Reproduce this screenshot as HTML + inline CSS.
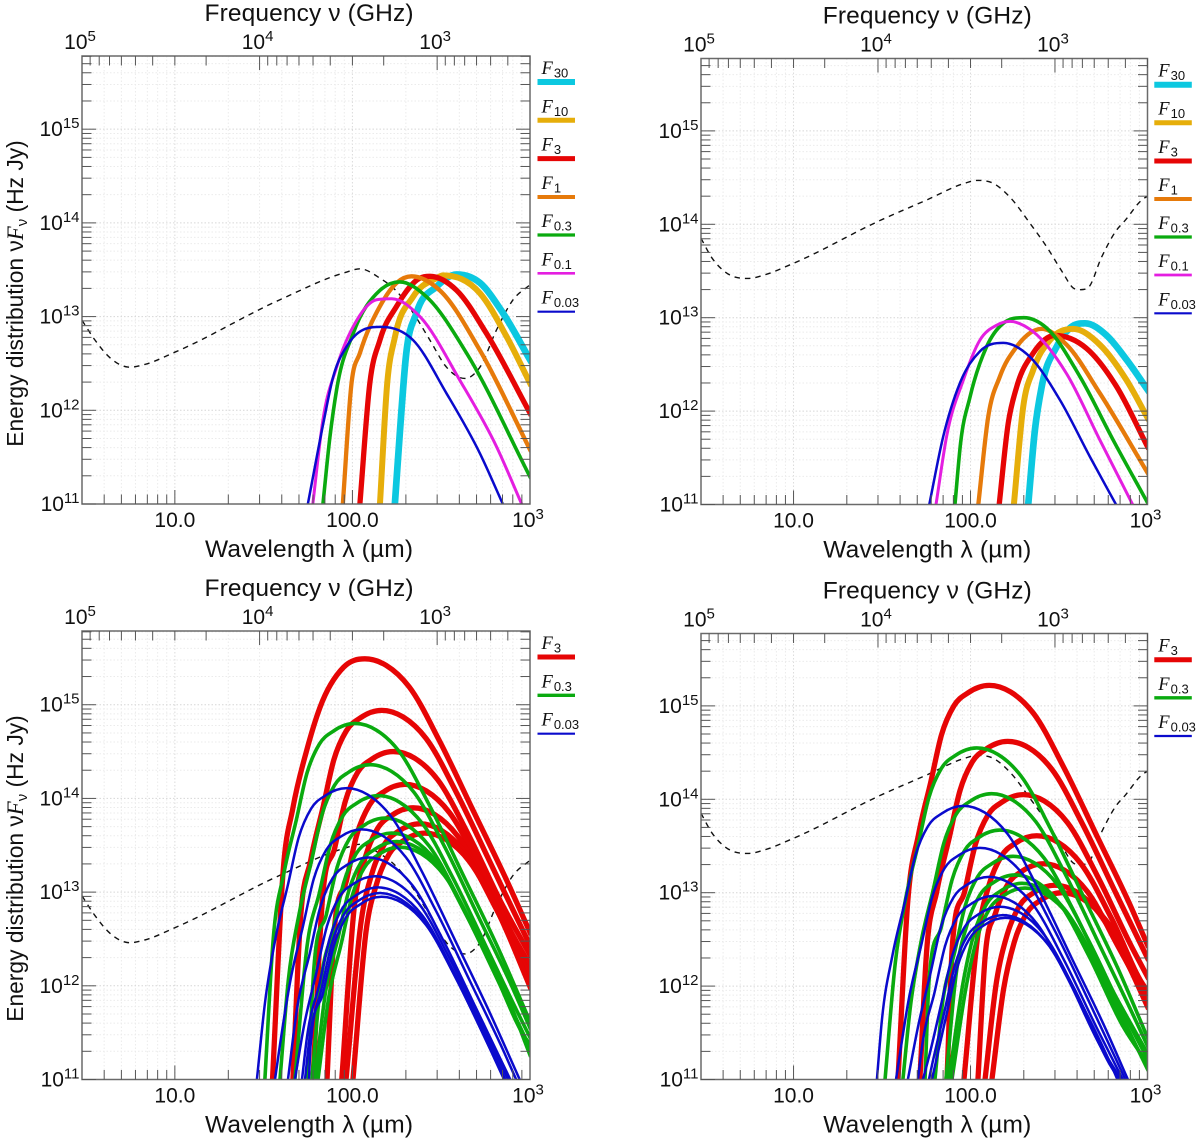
<!DOCTYPE html>
<html lang="en">
<head>
<meta charset="utf-8">
<title>Energy distribution panels</title>
<style>
html,body{margin:0;padding:0;background:#fff;}
svg{display:block;}
text{font-family:"Liberation Sans",sans-serif;fill:#111;}
</style>
</head>
<body>
<svg id="figure" xmlns="http://www.w3.org/2000/svg" width="1200" height="1140" viewBox="0 0 1200 1140"></svg>
<script>
// All values are log10(wavelength / micron) and log10(nuFnu / Hz Jy).
const dustLamLeft=[0.477,0.55,0.635,0.747,0.832,1.0,1.592,1.958,2.042,2.155,2.249,2.342,2.436,2.53,2.633,2.718,2.812,2.905,3.0];
const dustFluxLeft=[12.96,12.75,12.56,12.46,12.49,12.62,13.18,13.47,13.51,13.41,13.27,13.04,12.75,12.46,12.34,12.46,12.86,13.18,13.34];
const dustLamRight=[0.477,0.539,0.613,0.743,0.839,0.997,1.488,1.752,1.969,2.035,2.127,2.223,2.336,2.43,2.522,2.579,2.618,2.664,2.741,2.826,2.873,2.974,3.0];
const dustFluxRight=[13.85,13.64,13.49,13.42,13.46,13.58,14.04,14.26,14.44,14.47,14.44,14.29,14.01,13.76,13.48,13.32,13.30,13.32,13.65,13.94,14.04,14.27,14.30];

// Top-left panel
const tlF30Lam=[2.239,2.267,2.301,2.361,2.474,2.587,2.718,2.847,3.0];
const tlF30Flux=[11,11.76,12.57,13.04,13.32,13.45,13.36,13.04,12.54];
const tlF10Lam=[2.155,2.196,2.239,2.341,2.474,2.51,2.718,2.87,3.0];
const tlF10Flux=[11,12.29,12.78,13.21,13.41,13.44,13.25,12.78,12.29];
const tlF3Lam=[2.042,2.098,2.155,2.249,2.38,2.436,2.587,2.755,3.0];
const tlF3Flux=[11,12.29,12.75,13.11,13.41,13.43,13.28,12.82,11.97];
const tlF1Lam=[1.946,1.995,2.042,2.155,2.249,2.333,2.492,2.718,3.0];
const tlF1Flux=[11,12.29,12.61,13.11,13.36,13.43,13.28,12.64,11.58];
const tlF03Lam=[1.834,1.873,1.911,2.004,2.155,2.267,2.418,2.643,3.0];
const tlF03Flux=[11,11.71,12.22,12.82,13.28,13.37,13.21,12.61,11.29];
const tlF01Lam=[1.777,1.834,1.911,2.024,2.136,2.221,2.38,2.605,2.812,2.953];
const tlF01Flux=[11,11.90,12.46,12.96,13.18,13.19,13.0,12.32,11.61,11];
const tlF003Lam=[1.749,1.836,1.892,1.967,2.061,2.164,2.341,2.53,2.718,2.847];
const tlF003Flux=[11,11.86,12.36,12.68,12.86,12.89,12.75,12.18,11.54,11];

// Top-right panel
const trF30Lam=[2.326,2.364,2.402,2.487,2.562,2.647,2.769,2.882,3.0];
const trF30Flux=[11,11.80,12.26,12.69,12.89,12.94,12.81,12.55,12.23];
const trF10Lam=[2.245,2.298,2.354,2.449,2.58,2.731,2.882,3.0];
const trF10Flux=[11,12.05,12.44,12.76,12.88,12.71,12.33,11.93];
const trF3Lam=[2.162,2.213,2.261,2.354,2.477,2.656,2.826,3.0];
const trF3Flux=[11,11.87,12.26,12.62,12.81,12.67,12.26,11.62];
const trF1Lam=[2.044,2.10,2.166,2.261,2.402,2.543,2.731,3.0];
const trF1Flux=[11,11.94,12.37,12.69,12.88,12.71,12.19,11.34];
const trF03Lam=[1.912,1.944,1.997,2.091,2.185,2.302,2.43,2.618,2.806,3.0];
const trF03Flux=[11,11.66,12.15,12.69,12.94,13.0,12.89,12.37,11.69,11.02];
const trF01Lam=[1.805,1.865,1.959,2.053,2.148,2.223,2.354,2.543,2.731,2.916];
const trF01Flux=[11,11.73,12.33,12.76,12.92,12.96,12.85,12.40,11.69,11];
const trF003Lam=[1.767,1.846,1.94,2.053,2.185,2.336,2.505,2.675,2.822];
const trF003Flux=[11,11.73,12.30,12.64,12.73,12.58,12.12,11.51,11];

// Bottom-left panel
const blRed1Lam=[1.55,1.61,1.665,1.742,1.817,1.95,2.07,2.19,2.32,2.49,2.68,2.87,3.0];
const blRed1Flux=[11,13.23,13.90,14.51,14.97,15.40,15.49,15.42,15.19,14.615,13.87,13.12,12.57];
const blRed2Lam=[1.665,1.705,1.765,1.835,1.895,1.965,2.045,2.165,2.285,2.415,2.585,2.775,2.965,3.0];
const blRed2Flux=[11,12.64,13.34,13.91,14.41,14.72,14.86,14.94,14.87,14.64,14.065,13.32,12.57,12.435];
const blRed3Lam=[1.778,1.83,1.90,1.96,2.03,2.11,2.23,2.35,2.48,2.65,2.84,3.0];
const blRed3Flux=[11,12.90,13.47,13.97,14.28,14.42,14.50,14.43,14.20,13.625,12.88,12.33];
const blRed4Lam=[1.857,1.896,1.966,2.026,2.096,2.176,2.296,2.416,2.546,2.716,2.906,3.0];
const blRed4Flux=[11,12.55,13.12,13.62,13.93,14.07,14.15,14.08,13.85,13.275,12.53,12.22];
const blRed5Lam=[1.94,2.012,2.072,2.142,2.222,2.342,2.462,2.592,2.762,2.952,3.0];
const blRed5Flux=[11,12.87,13.37,13.68,13.82,13.90,13.83,13.60,13.025,12.28,12.15];
const blRed6Lam=[1.964,2.05,2.11,2.18,2.26,2.38,2.50,2.63,2.80,2.99,3.0];
const blRed6Flux=[11,12.70,13.20,13.51,13.65,13.73,13.66,13.43,12.855,12.11,12.06];
const blRed7Lam=[2.003,2.078,2.138,2.208,2.288,2.408,2.528,2.658,2.828,3.0];
const blRed7Flux=[11,12.60,13.10,13.41,13.55,13.63,13.56,13.33,12.755,11.99];

const blGreen1Lam=[1.507,1.554,1.614,1.684,1.744,1.814,1.894,2.014,2.134,2.264,2.434,2.624,2.814,3.0];
const blGreen1Flux=[11,12.50,13.20,13.77,14.27,14.58,14.72,14.80,14.73,14.50,13.925,13.18,12.43,11.62];
const blGreen2Lam=[1.592,1.639,1.699,1.769,1.829,1.899,1.979,2.099,2.219,2.349,2.519,2.709,2.899,3.0];
const blGreen2Flux=[11,12.06,12.76,13.33,13.83,14.14,14.28,14.36,14.29,14.06,13.485,12.74,11.99,11.55];
const blGreen3Lam=[1.676,1.745,1.815,1.875,1.945,2.025,2.145,2.265,2.395,2.565,2.755,2.945,3.0];
const blGreen3Flux=[11,12.43,13.0,13.5,13.81,13.95,14.03,13.96,13.73,13.155,12.41,11.66,11.45];
const blGreen4Lam=[1.75,1.783,1.853,1.913,1.983,2.063,2.183,2.303,2.433,2.603,2.793,2.983,3.0];
const blGreen4Flux=[11,12.19,12.76,13.26,13.57,13.71,13.79,13.72,13.49,12.915,12.17,11.42,11.38];
const blGreen5Lam=[1.772,1.821,1.891,1.951,2.021,2.101,2.221,2.341,2.471,2.641,2.831,3.0];
const blGreen5Flux=[11,12.03,12.60,13.10,13.41,13.55,13.63,13.56,13.33,12.755,12.01,11.34];
const blGreen6Lam=[1.789,1.849,1.919,1.979,2.049,2.129,2.249,2.369,2.499,2.669,2.859,3.0];
const blGreen6Flux=[11,11.94,12.51,13.01,13.32,13.46,13.54,13.47,13.24,12.665,11.92,11.30];
const blGreen7Lam=[1.806,1.867,1.937,1.997,2.067,2.147,2.267,2.387,2.517,2.687,2.877,3.0];
const blGreen7Flux=[11,11.88,12.45,12.95,13.26,13.40,13.48,13.41,13.18,12.605,11.86,11.26];

const blBlue1Lam=[1.462,1.507,1.567,1.637,1.697,1.767,1.847,1.967,2.087,2.217,2.387,2.577,2.767,2.942];
const blBlue1Flux=[11,11.81,12.51,13.08,13.58,13.89,14.03,14.11,14.04,13.81,13.235,12.49,11.74,11];
const blBlue2Lam=[1.564,1.592,1.652,1.722,1.782,1.852,1.932,2.052,2.172,2.302,2.472,2.662,2.852,2.922];
const blBlue2Flux=[11,11.37,12.07,12.64,13.14,13.45,13.59,13.67,13.60,13.37,12.795,12.05,11.30,11];
const blBlue3Lam=[1.637,1.689,1.759,1.819,1.889,1.969,2.089,2.209,2.339,2.509,2.699,2.889];
const blBlue3Flux=[11,11.77,12.34,12.84,13.15,13.29,13.37,13.30,13.07,12.495,11.75,11];
const blBlue4Lam=[1.676,1.727,1.797,1.857,1.927,2.007,2.127,2.247,2.377,2.547,2.737,2.877];
const blBlue4Flux=[11,11.57,12.14,12.64,12.95,13.09,13.17,13.10,12.87,12.295,11.55,11];
const blBlue5Lam=[1.716,1.744,1.814,1.874,1.944,2.024,2.144,2.264,2.394,2.564,2.754,2.862];
const blBlue5Flux=[11,11.45,12.02,12.52,12.83,12.97,13.05,12.98,12.75,12.175,11.43,11];
const blBlue6Lam=[1.733,1.755,1.825,1.885,1.955,2.035,2.155,2.275,2.405,2.575,2.765,2.86];
const blBlue6Flux=[11,11.39,11.96,12.46,12.77,12.91,12.99,12.92,12.69,12.115,11.37,11];
const blBlue7Lam=[1.755,1.764,1.834,1.894,1.964,2.044,2.164,2.284,2.414,2.584,2.774,2.854];
const blBlue7Flux=[11,11.35,11.92,12.42,12.73,12.87,12.95,12.88,12.65,12.075,11.33,11];

// Bottom-right panel
const brRed1Lam=[1.59,1.646,1.706,1.776,1.836,1.906,1.986,2.106,2.226,2.356,2.526,2.716,2.906,3.0];
const brRed1Flux=[11,12.92,13.62,14.19,14.69,15.0,15.14,15.22,15.15,14.92,14.345,13.60,12.85,12.44];
const brRed2Lam=[1.714,1.75,1.81,1.88,1.94,2.01,2.09,2.21,2.33,2.46,2.63,2.82,3.0];
const brRed2Flux=[11,12.32,13.02,13.59,14.09,14.40,14.54,14.62,14.55,14.32,13.745,13.0,12.30];
const brRed3Lam=[1.867,1.898,1.968,2.028,2.098,2.178,2.298,2.418,2.548,2.718,2.908,3.0];
const brRed3Flux=[11,12.45,13.02,13.52,13.83,13.97,14.05,13.98,13.75,13.175,12.43,12.1];
const brRed4Lam=[1.963,2.044,2.104,2.174,2.254,2.374,2.494,2.624,2.794,2.984,3.0];
const brRed4Flux=[11,12.58,13.08,13.39,13.53,13.61,13.54,13.31,12.735,11.99,11.95];
const brRed5Lam=[2.042,2.081,2.141,2.211,2.291,2.411,2.531,2.661,2.831,3.0];
const brRed5Flux=[11,12.28,12.78,13.09,13.23,13.31,13.24,13.01,12.435,11.85];
const brRed6Lam=[2.082,2.147,2.207,2.277,2.357,2.477,2.597,2.727,2.897,3.0];
const brRed6Flux=[11,12.05,12.55,12.86,13.0,13.08,13.01,12.78,12.205,11.78];
const brRed7Lam=[2.121,2.187,2.247,2.317,2.397,2.517,2.637,2.767,2.937,3.0];
const brRed7Flux=[11,11.97,12.47,12.78,12.92,13.0,12.93,12.70,12.125,11.82];

const brGreen1Lam=[1.517,1.575,1.635,1.705,1.765,1.835,1.915,2.035,2.155,2.285,2.455,2.645,2.835,3.0];
const brGreen1Flux=[11,12.25,12.95,13.52,14.02,14.33,14.47,14.55,14.48,14.25,13.675,12.93,12.18,11.45];
const brGreen2Lam=[1.618,1.659,1.719,1.789,1.849,1.919,1.999,2.119,2.239,2.369,2.539,2.729,2.919,3.0];
const brGreen2Flux=[11,11.76,12.46,13.03,13.53,13.84,13.98,14.06,13.99,13.76,13.185,12.44,11.69,11.36];
const brGreen3Lam=[1.743,1.766,1.836,1.896,1.966,2.046,2.166,2.286,2.416,2.586,2.776,3.0];
const brGreen3Flux=[11,12.07,12.64,13.14,13.45,13.59,13.67,13.60,13.37,12.795,12.05,11.28];
const brGreen4Lam=[1.799,1.84,1.91,1.97,2.04,2.12,2.24,2.36,2.49,2.66,2.85,3.0];
const brGreen4Flux=[11,11.79,12.36,12.86,13.17,13.31,13.39,13.32,13.09,12.515,11.77,11.22];
const brGreen5Lam=[1.861,1.921,1.981,2.051,2.131,2.251,2.371,2.501,2.671,2.861,3.0];
const brGreen5Flux=[11,12.16,12.66,12.97,13.11,13.19,13.12,12.89,12.315,11.57,11.17];
const brGreen6Lam=[1.878,1.961,2.021,2.091,2.171,2.291,2.411,2.541,2.711,2.901,3.0];
const brGreen6Flux=[11,12.07,12.57,12.88,13.02,13.10,13.03,12.80,12.225,11.48,11.14];
const brGreen7Lam=[1.895,1.978,2.038,2.108,2.188,2.308,2.428,2.558,2.728,2.918,3.0];
const brGreen7Flux=[11,12.02,12.52,12.83,12.97,13.05,12.98,12.75,12.175,11.43,11.11];

const brBlue1Lam=[1.471,1.499,1.559,1.629,1.689,1.759,1.839,1.959,2.079,2.209,2.379,2.569,2.759,2.889];
const brBlue1Flux=[11,11.63,12.33,12.90,13.40,13.71,13.85,13.93,13.86,13.63,13.055,12.31,11.56,11];
const brBlue2Lam=[1.579,1.653,1.723,1.783,1.853,1.933,2.053,2.173,2.303,2.473,2.663,2.875];
const brBlue2Flux=[11,11.88,12.45,12.95,13.26,13.40,13.48,13.41,13.18,12.605,11.86,11];
const brBlue3Lam=[1.646,1.704,1.774,1.834,1.904,1.984,2.104,2.224,2.354,2.524,2.714,2.86];
const brBlue3Flux=[11,11.57,12.14,12.64,12.95,13.09,13.17,13.10,12.87,12.295,11.55,11];
const brBlue4Lam=[1.703,1.727,1.797,1.857,1.927,2.007,2.127,2.247,2.377,2.547,2.737,2.85];
const brBlue4Flux=[11,11.365,11.935,12.435,12.745,12.885,12.965,12.895,12.665,12.09,11.345,11];
const brBlue5Lam=[1.731,1.766,1.836,1.896,1.966,2.046,2.166,2.286,2.416,2.586,2.776,2.85];
const brBlue5Flux=[11,11.25,11.82,12.32,12.63,12.77,12.85,12.78,12.55,11.975,11.23,11];
const brBlue6Lam=[1.765,1.783,1.853,1.913,1.983,2.063,2.183,2.303,2.433,2.603,2.793,2.84];
const brBlue6Flux=[11,11.16,11.73,12.23,12.54,12.68,12.76,12.69,12.46,11.885,11.14,11];
const brBlue7Lam=[1.782,1.865,1.925,1.995,2.075,2.195,2.315,2.445,2.615,2.805,2.83];
const brBlue7Flux=[11,11.70,12.20,12.51,12.65,12.73,12.66,12.43,11.855,11.11,11];

// Tick labels
const yTickExponents=[11,12,13,14,15];
const nuTickExponents=[5,4,3];
const lamTickValues=[10,100];
const lamTickLabels=["10.0","100.0"];

const styleF30={label:"30",color:"#0cc8e0",width:6.7,swatch:6};
const styleF10={label:"10",color:"#e6ae0a",width:6,swatch:5};
const styleF3={label:"3",color:"#e60505",width:5.3,swatch:5};
const styleF1={label:"1",color:"#e67a0a",width:4.3,swatch:4};
const styleF03={label:"0.3",color:"#0aaa0f",width:3.6,swatch:3.3};
const styleF01={label:"0.1",color:"#e41ee0",width:3,swatch:2.7};
const styleF003={label:"0.03",color:"#0a0acc",width:2.5,swatch:2.2};

const panels=[
 {id:"top-left",left:82,right:530,top:56,bottom:504,logTop:15.781,yLabel:true,
  legendX:537.5,legendY:[82,120.3,158.6,197,235,273.3,311.7],
  legend:[styleF30,styleF10,styleF3,styleF1,styleF03,styleF01,styleF003],
  dust:[dustLamLeft,dustFluxLeft],
  series:[[styleF30,tlF30Lam,tlF30Flux],[styleF10,tlF10Lam,tlF10Flux],[styleF3,tlF3Lam,tlF3Flux],[styleF1,tlF1Lam,tlF1Flux],[styleF03,tlF03Lam,tlF03Flux],[styleF01,tlF01Lam,tlF01Flux],[styleF003,tlF003Lam,tlF003Flux]]},
 {id:"top-right",left:701,right:1147.5,top:58.5,bottom:504.5,logTop:15.775,yLabel:false,
  legendX:1154.3,legendY:[84.7,122.7,161,199,237,275,313.3],
  legend:[styleF30,styleF10,styleF3,styleF1,styleF03,styleF01,styleF003],
  dust:[dustLamRight,dustFluxRight],
  series:[[styleF30,trF30Lam,trF30Flux],[styleF10,trF10Lam,trF10Flux],[styleF3,trF3Lam,trF3Flux],[styleF1,trF1Lam,trF1Flux],[styleF03,trF03Lam,trF03Flux],[styleF01,trF01Lam,trF01Flux],[styleF003,trF003Lam,trF003Flux]]},
 {id:"bottom-left",left:82,right:530,top:631,bottom:1079.5,logTop:15.787,yLabel:true,
  legendX:537.5,legendY:[657,695.3,733.7],
  legend:[styleF3,styleF03,styleF003],
  dust:[dustLamLeft,dustFluxLeft],
  series:[[styleF3,blRed1Lam,blRed1Flux],[styleF3,blRed2Lam,blRed2Flux],[styleF3,blRed3Lam,blRed3Flux],[styleF3,blRed4Lam,blRed4Flux],[styleF3,blRed5Lam,blRed5Flux],[styleF3,blRed6Lam,blRed6Flux],[styleF3,blRed7Lam,blRed7Flux],
   [styleF03,blGreen1Lam,blGreen1Flux],[styleF03,blGreen2Lam,blGreen2Flux],[styleF03,blGreen3Lam,blGreen3Flux],[styleF03,blGreen4Lam,blGreen4Flux],[styleF03,blGreen5Lam,blGreen5Flux],[styleF03,blGreen6Lam,blGreen6Flux],[styleF03,blGreen7Lam,blGreen7Flux],
   [styleF003,blBlue1Lam,blBlue1Flux],[styleF003,blBlue2Lam,blBlue2Flux],[styleF003,blBlue3Lam,blBlue3Flux],[styleF003,blBlue4Lam,blBlue4Flux],[styleF003,blBlue5Lam,blBlue5Flux],[styleF003,blBlue6Lam,blBlue6Flux],[styleF003,blBlue7Lam,blBlue7Flux]]},
 {id:"bottom-right",left:701,right:1147.5,top:633.5,bottom:1079.5,logTop:15.775,yLabel:false,
  legendX:1154.3,legendY:[659.7,697.8,736],
  legend:[styleF3,styleF03,styleF003],
  dust:[dustLamRight,dustFluxRight],
  series:[[styleF3,brRed1Lam,brRed1Flux],[styleF3,brRed2Lam,brRed2Flux],[styleF3,brRed3Lam,brRed3Flux],[styleF3,brRed4Lam,brRed4Flux],[styleF3,brRed5Lam,brRed5Flux],[styleF3,brRed6Lam,brRed6Flux],[styleF3,brRed7Lam,brRed7Flux],
   [styleF03,brGreen1Lam,brGreen1Flux],[styleF03,brGreen2Lam,brGreen2Flux],[styleF03,brGreen3Lam,brGreen3Flux],[styleF03,brGreen4Lam,brGreen4Flux],[styleF03,brGreen5Lam,brGreen5Flux],[styleF03,brGreen6Lam,brGreen6Flux],[styleF03,brGreen7Lam,brGreen7Flux],
   [styleF003,brBlue1Lam,brBlue1Flux],[styleF003,brBlue2Lam,brBlue2Flux],[styleF003,brBlue3Lam,brBlue3Flux],[styleF003,brBlue4Lam,brBlue4Flux],[styleF003,brBlue5Lam,brBlue5Flux],[styleF003,brBlue6Lam,brBlue6Flux],[styleF003,brBlue7Lam,brBlue7Flux]]}
];

const NS="http://www.w3.org/2000/svg";
const root=document.getElementById("figure");
const LOG3=Math.log10(3);

function make(tag,attrs,parent){
  const el=document.createElementNS(NS,tag);
  for(const k in attrs){el.setAttribute(k,attrs[k]);}
  parent.appendChild(el);
  return el;
}
function namedLine(parent,name,x1,y1,x2,y2,color,width,dash){
  const el=make("line",{x1:x1,y1:y1,x2:x2,y2:y2,stroke:color,"stroke-width":width},parent);
  if(dash){el.setAttribute("stroke-dasharray",dash);}
  
  
  return el;
}
function smoothPath(px,py){
  const n=px.length,d=[],w=[],m=[];
  for(let i=0;i<n-1;i++){
    w.push(px[i+1]-px[i]);
    d.push((py[i+1]-py[i])/w[i]);
  }
  m[0]=d[0];m[n-1]=d[n-2];
  for(let i=1;i<n-1;i++){
    if(d[i-1]*d[i]<=0){m[i]=0;continue;}
    const t=(w[i]*d[i-1]+w[i-1]*d[i])/(w[i-1]+w[i]);
    const lim=3*Math.min(Math.abs(d[i-1]),Math.abs(d[i]));
    m[i]=Math.abs(t)>lim?Math.sign(t)*lim:t;
  }
  let s="M"+px[0].toFixed(2)+" "+py[0].toFixed(2);
  for(let i=0;i<n-1;i++){
    const h=w[i]/3;
    s+="C"+(px[i]+h).toFixed(2)+" "+(py[i]+m[i]*h).toFixed(2)+" "+(px[i+1]-h).toFixed(2)+" "+(py[i+1]-m[i+1]*h).toFixed(2)+" "+px[i+1].toFixed(2)+" "+py[i+1].toFixed(2);
  }
  return s;
}
function powerLabel(parent,name,x,y,anchor,exponent){
  const t=make("text",{x:x,y:y,"text-anchor":anchor,"font-size":21},parent);
  
  
  t.appendChild(document.createTextNode("10"));
  const s=make("tspan",{dy:-8,"font-size":15},t);
  s.textContent=String(exponent);
}

panels.forEach(function(p){
  const g=make("g",{},root);
  
  
  const xPos=function(logLam){return p.left+(logLam-LOG3)*(p.right-p.left)/(3-LOG3);};
  const yPos=function(logFlux){return p.bottom-(logFlux-11)*(p.bottom-p.top)/(p.logTop-11);};

  const clipId="clip-"+p.id;
  const defs=make("defs",{},g);
  const clip=make("clipPath",{id:clipId},defs);
  make("rect",{x:p.left,y:p.top,width:p.right-p.left,height:p.bottom-p.top},clip);

  // Grid
  const grid=make("g",{},g);
  
  
  for(let dec=0;dec<3;dec++){
    for(let m=1;m<=9;m++){
      const lx=dec+Math.log10(m);
      if(lx<=LOG3+0.001||lx>=2.999){continue;}
      namedLine(grid,"grid-line-vertical",xPos(lx),p.top,xPos(lx),p.bottom,m===1?"#dcdcdc":"#ebebeb",1,"1.5 2");
    }
  }
  for(let dec=11;dec<16;dec++){
    for(let m=1;m<=9;m++){
      const ly=dec+Math.log10(m);
      if(ly>=p.logTop||ly<=11.001){continue;}
      namedLine(grid,"grid-line-horizontal",p.left,yPos(ly),p.right,yPos(ly),m===1?"#d6d6d6":"#ebebeb",1,"1.5 2");
    }
  }

  // Series
  const curves=make("g",{"clip-path":"url(#"+clipId+")"},g);
  
  
  const dust=make("path",{d:smoothPath(p.dust[0].map(xPos),p.dust[1].map(yPos)),fill:"none",stroke:"#111","stroke-width":1.4,"stroke-dasharray":"5.5 5"},curves);
  
  
  p.series.forEach(function(s){
    const st=s[0];
    const path=make("path",{d:smoothPath(s[1].map(xPos),s[2].map(yPos)),fill:"none",stroke:st.color,"stroke-width":st.width,"stroke-linecap":"square","stroke-linejoin":"round"},curves);
    
    
  });

  // Frame
  const frame=make("rect",{x:p.left,y:p.top,width:p.right-p.left,height:p.bottom-p.top,fill:"none",stroke:"#6a6a6a","stroke-width":1.5},g);
  
  

  // Ticks
  const ticks=make("g",{},g);
  
  
  for(let dec=0;dec<3;dec++){
    for(let m=1;m<=9;m++){
      const lx=dec+Math.log10(m);
      if(lx<LOG3+0.001||lx>3.001){continue;}
      const len=m===1?14:9.5;
      namedLine(ticks,"bottom-x-tick",xPos(lx),p.bottom,xPos(lx),p.bottom-len,"#555",1);
    }
  }
  for(let dec=2;dec<5;dec++){
    for(let m=1;m<=9;m++){
      const lx=Math.log10(3e5)-dec-Math.log10(m);
      if(lx<LOG3-0.001||lx>3.001){continue;}
      const len=m===1?14:9.5;
      namedLine(ticks,"top-x-tick",xPos(lx),p.top,xPos(lx),p.top+len,"#555",1);
    }
  }
  for(let dec=11;dec<16;dec++){
    for(let m=1;m<=9;m++){
      const ly=dec+Math.log10(m);
      if(ly>=p.logTop){continue;}
      const len=m===1?14:9.5;
      namedLine(ticks,"left-y-tick",p.left,yPos(ly),p.left+len,yPos(ly),"#555",1);
      namedLine(ticks,"right-y-tick",p.right,yPos(ly),p.right-len,yPos(ly),"#555",1);
    }
  }

  // Tick labels
  yTickExponents.forEach(function(e){
    powerLabel(g,"y-tick-label",p.left-2.5,yPos(e)+7,"end",e);
  });
  nuTickExponents.forEach(function(e){
    powerLabel(g,"top-x-tick-label",xPos(Math.log10(3e5)-e)-2,p.top-7,"middle",e);
  });
  lamTickValues.forEach(function(v,i){
    const t=make("text",{x:xPos(Math.log10(v)),y:p.bottom+23,"text-anchor":"middle","font-size":21},g);
    
    
    t.textContent=lamTickLabels[i];
  });
  powerLabel(g,"bottom-x-tick-label",p.right-2,p.bottom+23,"middle",3);

  // Axis titles
  const cx=(p.left+p.right)/2+3;
  const topTitle=make("text",{x:cx,y:p.top-35,"text-anchor":"middle","font-size":24.5,textLength:209},g);
  
  
  topTitle.textContent="Frequency \u03BD (GHz)";
  const bottomTitle=make("text",{x:cx,y:p.bottom+53,"text-anchor":"middle","font-size":24.5,textLength:208},g);
  
  
  bottomTitle.textContent="Wavelength \u03BB (\u00B5m)";

  if(p.yLabel){
    const yc=p.top+237.5;
    const yt=make("text",{transform:"translate(23,"+yc+") rotate(-90)","text-anchor":"middle","font-size":22.8},g);
    
    
    yt.appendChild(document.createTextNode("Energy distribution \u03BD"));
    const f=make("tspan",{"font-family":"Liberation Serif, serif","font-style":"italic"},yt);
    f.textContent="F";
    const nu=make("tspan",{dy:4,"font-size":15},yt);
    nu.textContent="\u03BD";
    const tail=make("tspan",{dy:-4},yt);
    tail.textContent=" (Hz Jy)";
  }

  // Legend
  const legend=make("g",{},g);
  
  
  p.legend.forEach(function(st,i){
    const y=p.legendY[i];
    const bar=namedLine(legend,"legend-swatch-f-"+st.label,p.legendX,y,p.legendX+37.5,y,st.color,st.swatch);
    bar.setAttribute("stroke-linecap","butt");
    const t=make("text",{x:p.legendX+4,y:y-8},legend);
    
    
    const f=make("tspan",{"font-family":"Liberation Serif, serif","font-style":"italic","font-size":18.5},t);
    f.textContent="F";
    const sub=make("tspan",{dx:1,dy:3.5,"font-size":13},t);
    sub.textContent=st.label;
  });
});
</script>
</body>
</html>
